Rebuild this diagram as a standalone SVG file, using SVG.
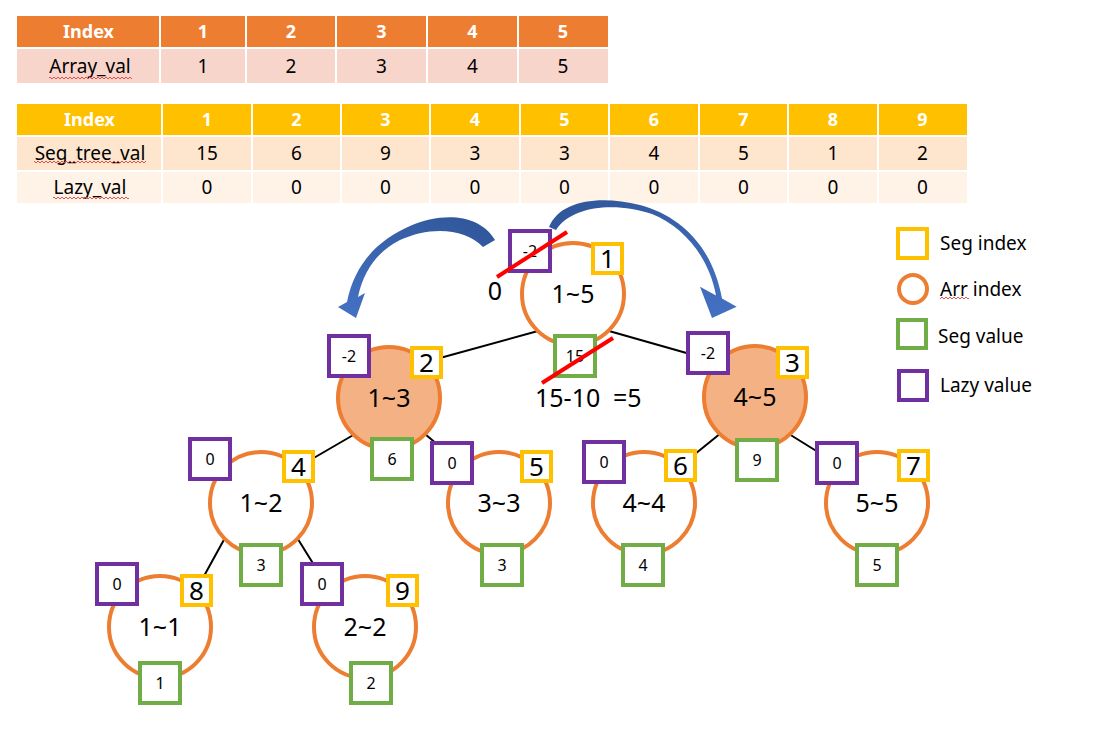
<svg xmlns="http://www.w3.org/2000/svg" width="1111" height="735" viewBox="0 0 1111 735">
<defs>
<style>
text{font-family:"Noto Sans","Liberation Sans",sans-serif;fill:#000}
.th{font-size:18px;font-weight:bold;fill:#fff;text-anchor:middle}
.td{font-size:19px;text-anchor:middle}
.sep{stroke:#fff;stroke-width:2}
.circ{fill:#fff;stroke:#ED7D31;stroke-width:4}
.hl{fill:#F4B183}
.lazy{fill:#fff;stroke:#7030A0;stroke-width:4}
.idx{fill:#fff;stroke:#FFC000;stroke-width:4}
.val{fill:#fff;stroke:#70AD47;stroke-width:4}
.lbl{font-size:25px;text-anchor:middle}
.big{font-size:26px;text-anchor:middle}
.sm{font-size:16px;text-anchor:middle}
.edge{stroke:#000;stroke-width:2}
.strike{stroke:#FF0000;stroke-width:4}
.leg{font-size:19px}
.squig{fill:url(#sq)}
</style>
<pattern id="sq" width="4" height="4" patternUnits="userSpaceOnUse"><path d="M0,3 L2,1 L4,3" fill="none" stroke="#E04040" stroke-width="0.9"/></pattern>
<linearGradient id="gL" x1="1" y1="0" x2="0" y2="1"><stop offset="0" stop-color="#2F5597"/><stop offset="1" stop-color="#4472C4"/></linearGradient>
<linearGradient id="gR" x1="0" y1="0" x2="1" y2="1"><stop offset="0" stop-color="#2F5597"/><stop offset="1" stop-color="#4472C4"/></linearGradient>
</defs>
<rect width="1111" height="735" fill="#fff"/>

<g id="table-array">
<rect x="17" y="16" width="591" height="31" fill="#ED7D31"/>
<rect x="17" y="49" width="591" height="34" fill="#F8D5CB"/>
<g class="sep"><line x1="160" y1="16" x2="160" y2="83"/><line x1="246" y1="16" x2="246" y2="83"/><line x1="336" y1="16" x2="336" y2="83"/><line x1="427" y1="16" x2="427" y2="83"/><line x1="518" y1="16" x2="518" y2="83"/></g>
<text class="th" x="88.5" y="38">Index</text>
<text class="th" x="203" y="38">1</text>
<text class="th" x="291" y="38">2</text>
<text class="th" x="381.5" y="38">3</text>
<text class="th" x="472.5" y="38">4</text>
<text class="th" x="563" y="38">5</text>
<text class="td" x="90" y="73">Array_val</text>
<rect class="squig" x="49" y="76" width="83" height="4"/>
<text class="td" x="203" y="73">1</text>
<text class="td" x="291" y="73">2</text>
<text class="td" x="381.5" y="73">3</text>
<text class="td" x="472.5" y="73">4</text>
<text class="td" x="563" y="73">5</text>
</g>

<g id="table-seg">
<rect x="17" y="104" width="950" height="31" fill="#FFC000"/>
<rect x="17" y="137" width="950" height="33" fill="#FEE6CE"/>
<rect x="17" y="172" width="950" height="31" fill="#FFF3E7"/>
<g class="sep"><line x1="162" y1="104" x2="162" y2="203"/><line x1="252" y1="104" x2="252" y2="203"/><line x1="341" y1="104" x2="341" y2="203"/><line x1="430" y1="104" x2="430" y2="203"/><line x1="520" y1="104" x2="520" y2="203"/><line x1="609" y1="104" x2="609" y2="203"/><line x1="699" y1="104" x2="699" y2="203"/><line x1="788" y1="104" x2="788" y2="203"/><line x1="878" y1="104" x2="878" y2="203"/></g>
<text class="th" x="89.5" y="126">Index</text>
<text class="th" x="207" y="126">1</text>
<text class="th" x="296.5" y="126">2</text>
<text class="th" x="385.5" y="126">3</text>
<text class="th" x="475" y="126">4</text>
<text class="th" x="564.5" y="126">5</text>
<text class="th" x="654" y="126">6</text>
<text class="th" x="743.5" y="126">7</text>
<text class="th" x="833" y="126">8</text>
<text class="th" x="922.5" y="126">9</text>
<text class="td" x="90" y="160">Seg_tree_val</text>
<rect class="squig" x="34" y="160" width="112" height="4"/>
<text class="td" x="207" y="160">15</text>
<text class="td" x="296.5" y="160">6</text>
<text class="td" x="385.5" y="160">9</text>
<text class="td" x="475" y="160">3</text>
<text class="td" x="564.5" y="160">3</text>
<text class="td" x="654" y="160">4</text>
<text class="td" x="743.5" y="160">5</text>
<text class="td" x="833" y="160">1</text>
<text class="td" x="922.5" y="160">2</text>
<text class="td" x="90" y="194">Lazy_val</text>
<rect class="squig" x="53" y="196" width="76" height="4"/>
<text class="td" x="207" y="194">0</text>
<text class="td" x="296.5" y="194">0</text>
<text class="td" x="385.5" y="194">0</text>
<text class="td" x="475" y="194">0</text>
<text class="td" x="564.5" y="194">0</text>
<text class="td" x="654" y="194">0</text>
<text class="td" x="743.5" y="194">0</text>
<text class="td" x="833" y="194">0</text>
<text class="td" x="922.5" y="194">0</text>
</g>

<g id="connectors" class="edge">
<line x1="538" y1="331" x2="440" y2="358"/>
<line x1="609" y1="331" x2="690" y2="354"/>
<line x1="355" y1="434" x2="312" y2="459"/>
<line x1="425" y1="434" x2="438" y2="445"/>
<line x1="721" y1="433" x2="695" y2="454"/>
<line x1="789" y1="434" x2="818" y2="452"/>
<line x1="226" y1="536" x2="204" y2="576"/>
<line x1="296" y1="536" x2="314" y2="565"/>
</g>

<g id="node-1">
<circle class="circ" cx="573" cy="294" r="51"/>
<text class="lbl" x="573" y="303">1~5</text>
<rect class="lazy" x="510" y="231" width="40" height="40"/>
<text class="sm" x="530" y="257">-2</text>
<rect class="idx" x="593" y="244" width="29" height="29"/>
<text class="big" x="607.5" y="268">1</text>
<rect class="val" x="555" y="336" width="40" height="40"/>
<text class="sm" x="575" y="362">15</text>
</g>
<g id="node-2">
<circle class="circ hl" cx="389" cy="398" r="51"/>
<text class="lbl" x="389" y="407">1~3</text>
<rect class="lazy" x="329" y="336" width="40" height="40"/>
<text class="sm" x="349" y="362">-2</text>
<rect class="idx" x="412" y="348" width="29" height="29"/>
<text class="big" x="426.5" y="372">2</text>
<rect class="val" x="372" y="439" width="40" height="40"/>
<text class="sm" x="392" y="465">6</text>
</g>
<g id="node-3">
<circle class="circ hl" cx="755" cy="397" r="51"/>
<text class="lbl" x="755" y="406">4~5</text>
<rect class="lazy" x="688" y="333" width="40" height="40"/>
<text class="sm" x="708" y="359">-2</text>
<rect class="idx" x="778" y="348" width="29" height="29"/>
<text class="big" x="792.5" y="372">3</text>
<rect class="val" x="737" y="440" width="40" height="40"/>
<text class="sm" x="757" y="466">9</text>
</g>
<g id="node-4">
<circle class="circ" cx="261" cy="503" r="51"/>
<text class="lbl" x="261" y="512">1~2</text>
<rect class="lazy" x="190" y="439" width="40" height="40"/>
<text class="sm" x="210" y="465">0</text>
<rect class="idx" x="284" y="452" width="29" height="29"/>
<text class="big" x="298.5" y="476">4</text>
<rect class="val" x="241" y="545" width="40" height="40"/>
<text class="sm" x="261" y="571">3</text>
</g>
<g id="node-5">
<circle class="circ" cx="499" cy="503" r="51"/>
<text class="lbl" x="499" y="512">3~3</text>
<rect class="lazy" x="432" y="443" width="40" height="40"/>
<text class="sm" x="452" y="469">0</text>
<rect class="idx" x="522" y="452" width="29" height="29"/>
<text class="big" x="536.5" y="476">5</text>
<rect class="val" x="482" y="545" width="40" height="40"/>
<text class="sm" x="502" y="571">3</text>
</g>
<g id="node-6">
<circle class="circ" cx="644" cy="503" r="51"/>
<text class="lbl" x="644" y="512">4~4</text>
<rect class="lazy" x="584" y="442" width="40" height="40"/>
<text class="sm" x="604" y="468">0</text>
<rect class="idx" x="666" y="451" width="29" height="29"/>
<text class="big" x="680.5" y="475">6</text>
<rect class="val" x="623" y="545" width="40" height="40"/>
<text class="sm" x="643" y="571">4</text>
</g>
<g id="node-7">
<circle class="circ" cx="877" cy="503" r="51"/>
<text class="lbl" x="877" y="512">5~5</text>
<rect class="lazy" x="817" y="443" width="40" height="40"/>
<text class="sm" x="837" y="469">0</text>
<rect class="idx" x="899" y="451" width="29" height="29"/>
<text class="big" x="913.5" y="475">7</text>
<rect class="val" x="857" y="545" width="40" height="40"/>
<text class="sm" x="877" y="571">5</text>
</g>
<g id="node-8">
<circle class="circ" cx="160" cy="627" r="51"/>
<text class="lbl" x="160" y="636">1~1</text>
<rect class="lazy" x="97" y="564" width="40" height="40"/>
<text class="sm" x="117" y="590">0</text>
<rect class="idx" x="182" y="576" width="29" height="29"/>
<text class="big" x="196.5" y="600">8</text>
<rect class="val" x="140" y="663" width="40" height="40"/>
<text class="sm" x="160" y="689">1</text>
</g>
<g id="node-9">
<circle class="circ" cx="365" cy="627" r="51"/>
<text class="lbl" x="365" y="636">2~2</text>
<rect class="lazy" x="302" y="564" width="40" height="40"/>
<text class="sm" x="322" y="590">0</text>
<rect class="idx" x="388" y="576" width="29" height="29"/>
<text class="big" x="402.5" y="600">9</text>
<rect class="val" x="351" y="663" width="40" height="40"/>
<text class="sm" x="371" y="689">2</text>
</g>

<g id="annotations">
<line class="strike" x1="497" y1="277" x2="567" y2="232"/>
<line class="strike" x1="542" y1="383" x2="613" y2="338"/>
<text class="lbl" x="495" y="300">0</text>
<text style="font-size:25px" y="407"><tspan x="535">15-10</tspan><tspan x="613">=5</tspan></text>
<path fill="url(#gL)" d="M483,247 L495,240 C478,212 440,213 410,226 C380,239 355,262 347,302 L338,307 L356,318 L365,293 L358,297 C364,268 380,250 400,240 C430,226 465,228 483,247 Z"/>
<path fill="url(#gR)" d="M549,227 C560,200 600,195 640,205 C680,216 712,245 722,298.5 L736.7,306.7 L712,318 L700,286.7 L716,295.5 C709,257 684,227 652,214 C617,202 572,205 556,230 Z"/>
</g>

<g id="legend">
<rect class="idx" x="898" y="229" width="29" height="29"/>
<text class="leg" x="940" y="250">Seg index</text>
<circle cx="913" cy="289" r="14" fill="#fff" stroke="#ED7D31" stroke-width="4"/>
<text class="leg" x="940" y="296">Arr index</text>
<rect class="squig" x="940" y="297" width="29" height="4"/>
<rect class="val" x="898" y="320" width="28" height="28"/>
<text class="leg" x="938" y="343">Seg value</text>
<rect class="lazy" x="899" y="371" width="28" height="29"/>
<text class="leg" x="940" y="392">Lazy value</text>
</g>
</svg>
